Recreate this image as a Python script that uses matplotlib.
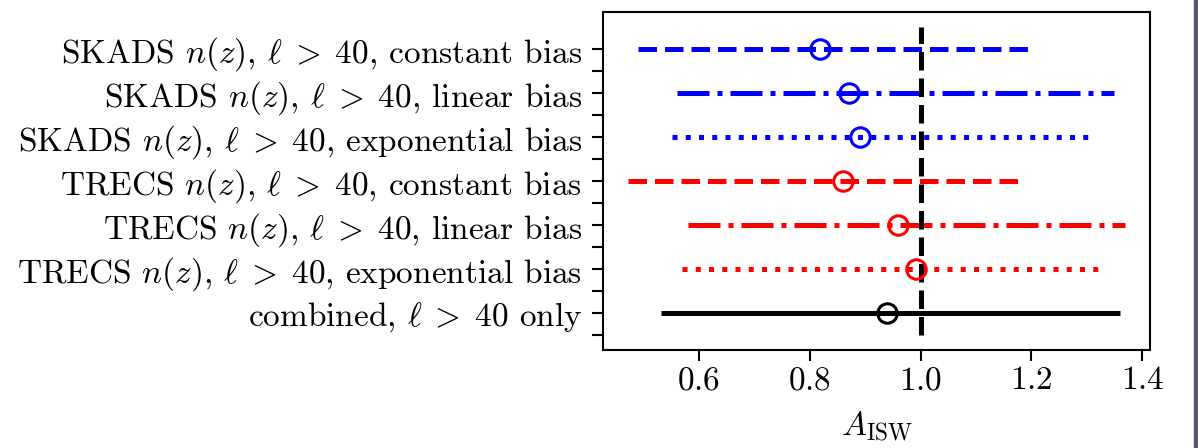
import matplotlib
matplotlib.use("Agg")
import matplotlib.pyplot as plt
from matplotlib.patches import Rectangle

plt.rcParams['font.family'] = 'serif'
plt.rcParams['font.serif'] = ['cmr10', 'DejaVu Serif']
plt.rcParams['mathtext.fontset'] = 'cm'
plt.rcParams['axes.formatter.use_mathtext'] = True

# rows from top to bottom
labels = [
    r"SKADS $n(z)$, $\ell \;>\; 40$, constant bias",
    r"SKADS $n(z)$, $\ell \;>\; 40$, linear bias",
    r"SKADS $n(z)$, $\ell \;>\; 40$, exponential bias",
    r"TRECS $n(z)$, $\ell \;>\; 40$, constant bias",
    r"TRECS $n(z)$, $\ell \;>\; 40$, linear bias",
    r"TRECS $n(z)$, $\ell \;>\; 40$, exponential bias",
    r"combined, $\ell \;>\; 40$ only",
]
a_isw = [0.819, 0.871, 0.890, 0.860, 0.959, 0.991, 0.939]
a_low = [0.490, 0.560, 0.551, 0.472, 0.581, 0.570, 0.531]
a_high = [1.200, 1.349, 1.307, 1.178, 1.369, 1.321, 1.360]
colors = ['blue', 'blue', 'blue', 'red', 'red', 'red', 'black']
styles = ['--', '-.', ':', '--', '-.', ':', '-']

fig = plt.figure(figsize=(11.98, 4.48), dpi=100)
ax = fig.add_axes([603 / 1198, 1 - 350 / 448, 547 / 1198, 338 / 448])

n = len(labels)
ypos = [n - 1 - i for i in range(n)]

for i in range(n):
    eb = ax.errorbar(a_isw[i], ypos[i],
                     xerr=[[a_isw[i] - a_low[i]], [a_high[i] - a_isw[i]]],
                     fmt='o', mfc='none', mec=colors[i], ms=14, mew=2.2,
                     ecolor=colors[i], elinewidth=3.6, capsize=0)
    eb[-1][0].set_linestyle(styles[i])

ax.plot([1, 1], [-0.5, n - 0.5], 'k--', lw=3.6)

ax.set_yticks(ypos)
ax.set_yticklabels(labels)
ax.set_yticks([y - 0.5 for y in ypos], minor=True)
ax.set_xticks([0.6, 0.8, 1.0, 1.2, 1.4])
ax.tick_params(axis='both', which='both', length=8, width=1.5, labelsize=24)
ax.tick_params(axis='y', pad=7)
for s in ax.spines.values():
    s.set_linewidth(1.5)
ax.set_xlabel(r"$A_{\rm ISW}$", fontsize=24, labelpad=10)

fig.patches.append(Rectangle((1194 / 1198, 0), 4 / 1198, 1, transform=fig.transFigure,
                             color='#55556c', zorder=10))

fig.savefig("out.png", dpi=100)
